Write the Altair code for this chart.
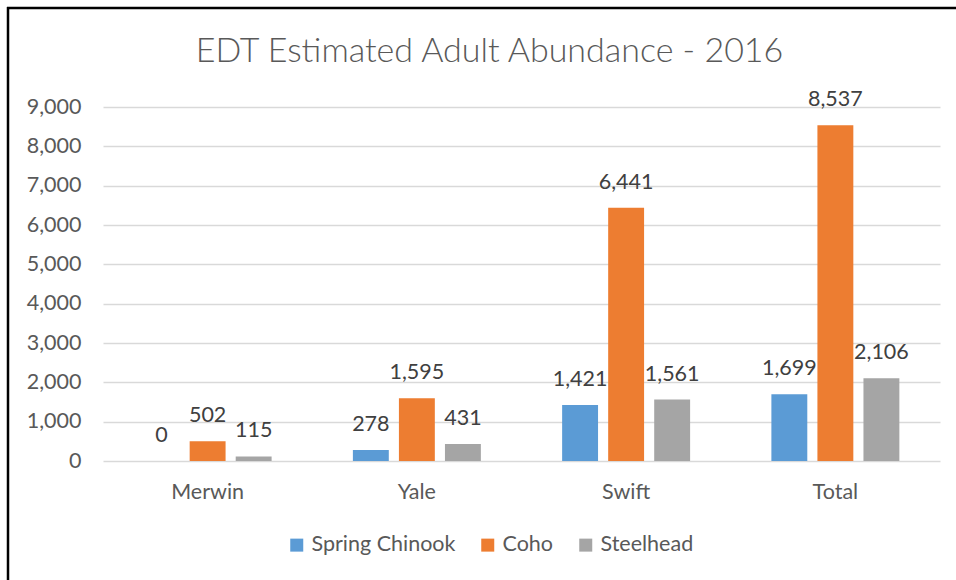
import altair as alt
import pandas as pd

categories = ["Merwin", "Yale", "Swift", "Total"]
series = ["Spring Chinook", "Coho", "Steelhead"]
spring_chinook = [0, 278, 1421, 1699]
coho = [502, 1595, 6441, 8537]
steelhead = [115, 431, 1561, 2106]
colors = ["#5B9BD5", "#ED7D31", "#A5A5A5"]
y_ticks = [0, 1000, 2000, 3000, 4000, 5000, 6000, 7000, 8000, 9000]

rows = []
for i, c in enumerate(categories):
    for s, vals in zip(series, [spring_chinook, coho, steelhead]):
        rows.append({"Location": c, "Species": s, "Count": vals[i]})
df = pd.DataFrame(rows)

FONT = "Lato"
GRAY = "#595959"
FS = 21.5

x = alt.X("Location:N", sort=categories,
          scale=alt.Scale(paddingInner=0.34, paddingOuter=0.17),
          axis=alt.Axis(title=None, labelAngle=0, ticks=False, domain=False,
                        labelPadding=20, labelFontSize=FS, labelColor=GRAY,
                        labelFont=FONT))
xo = alt.XOffset("Species:N", sort=series,
                 scale=alt.Scale(paddingInner=0.22, paddingOuter=0.11))
y = alt.Y("Count:Q", scale=alt.Scale(domain=[0, 9000], nice=False),
          axis=alt.Axis(title=None, values=y_ticks,
                        labelExpr="format(datum.value, ',')", ticks=False,
                        domain=False, grid=True, gridColor="#D9D9D9",
                        gridWidth=1.3, labelPadding=22, labelFontSize=FS,
                        labelColor=GRAY, labelFont=FONT))

bars = alt.Chart(df).mark_bar().encode(
    x=x, xOffset=xo, y=y,
    color=alt.Color("Species:N", sort=series,
                    scale=alt.Scale(domain=series, range=colors),
                    legend=alt.Legend(title=None, orient="none", legendX=183,
                                      legendY=427, direction="horizontal",
                                      symbolType="square", symbolSize=169,
                                      symbolStrokeWidth=0, labelFontSize=FS,
                                      labelColor=GRAY, labelFont=FONT,
                                      columnPadding=21, labelOffset=4,
                                      padding=0)),
)

labels = alt.Chart(df).mark_text(dy=-19, baseline="alphabetic", fontSize=FS,
                                 color="#404040", font=FONT).encode(
    x=x, xOffset=xo, y=y,
    text=alt.Text("Count:Q", format=","),
)

border_data = alt.Data(values=[{"k": 1}])
top_border = alt.Chart(border_data).mark_rule(color="black", strokeWidth=2.5).encode(
    x=alt.value(-96), x2=alt.value(853), y=alt.value(-99))
left_border = alt.Chart(border_data).mark_rule(color="black", strokeWidth=2.5).encode(
    x=alt.value(-95), y=alt.value(-100), y2=alt.value(473))

chart = alt.layer(bars, labels, top_border, left_border).properties(
    width=837, height=354,
    title=alt.TitleParams("EDT Estimated Adult Abundance - 2016", fontSize=34,
                          font=FONT, color=GRAY, fontWeight=300,
                          anchor="middle", dx=-32, offset=-63),
    autosize=alt.AutoSizeParams(type="none"),
    padding={"left": 103, "top": 107, "right": 16, "bottom": 119},
    background="white",
).configure_view(stroke=None)

chart.save("out.html", embed_options={"renderer": "svg", "actions": False})
